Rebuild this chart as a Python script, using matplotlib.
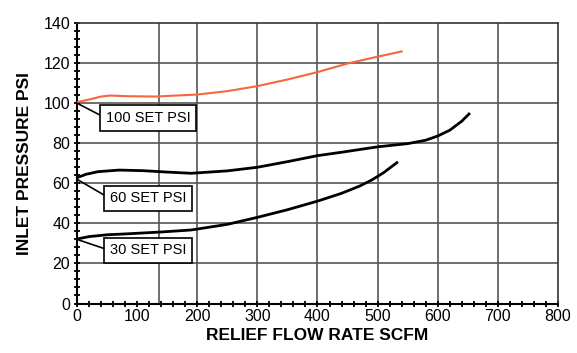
import numpy as np
import matplotlib.pyplot as plt

plt.rcParams['font.family'] = ['Liberation Sans', 'DejaVu Sans']

# curves (flow scfm, inlet psi)
x100 = [0, 20, 40, 55, 80, 130, 200, 250, 300, 350, 400, 450, 500, 540]
y100 = [100.5, 101.8, 103.3, 103.8, 103.5, 103.3, 104.3, 106.0, 108.5, 111.8, 115.5, 119.8, 123.2, 125.8]

x60 = [0, 15, 35, 70, 110, 150, 190, 250, 300, 350, 400, 440, 500, 550, 580, 600, 620, 640, 652]
y60 = [62.8, 64.5, 65.8, 66.6, 66.3, 65.6, 65.0, 66.2, 68.0, 70.8, 73.8, 75.5, 78.2, 79.8, 81.5, 83.6, 86.5, 91.0, 94.6]

x30 = [0, 20, 50, 85, 140, 190, 250, 300, 350, 400, 440, 470, 490, 510, 532]
y30 = [32.2, 33.4, 34.3, 34.8, 35.7, 36.7, 39.5, 43.0, 46.8, 51.1, 55.0, 58.6, 61.6, 65.3, 70.3]

labels = ['100 SET PSI', '60 SET PSI', '30 SET PSI']
label_start = [100, 62, 32]
label_pos = [92.6, 52.5, 26.5]

# vertical grid lines as drawn on the chart (first one is off the 100 mark)
grid_x = [137, 200, 300, 400, 500, 600, 700]
grid_y = [20, 40, 60, 80, 100, 120]

fig = plt.figure(figsize=(5.77, 3.53), dpi=100)
ax = fig.add_axes([0.1335, 0.1402, 0.8335, 0.7946])

for gx in grid_x:
    ax.axvline(gx, color='#555555', lw=1.2, zorder=1)
for gy in grid_y:
    ax.axhline(gy, color='#555555', lw=1.2, zorder=1)

ax.plot(x100, y100, color='#f4683c', lw=1.5, zorder=3)
ax.plot(x60, y60, color='black', lw=2, zorder=3)
ax.plot(x30, y30, color='black', lw=2, zorder=3)

for lab, s, p in zip(labels, label_start, label_pos):
    ax.annotate(lab, xy=(0, s), xytext=(118, p), ha='center', va='center',
                fontsize=10.5,
                bbox=dict(boxstyle='square,pad=0.38', fc='white', ec='black', lw=1.2),
                arrowprops=dict(arrowstyle='-', color='black', lw=1.2,
                                relpos=(0, 0.5), shrinkA=0, shrinkB=0),
                zorder=4)

ax.set_xlim(0, 800)
ax.set_ylim(0, 140)
ax.set_xticks(np.arange(0, 801, 100))
ax.set_xticks(np.arange(0, 801, 20), minor=True)
ax.set_yticks(np.arange(0, 141, 20))
ax.set_yticks(np.arange(0, 141, 4), minor=True)
ax.tick_params(which='both', direction='inout', length=4, width=1.3, labelsize=11.5)
ax.tick_params(axis='x', pad=2)
ax.tick_params(axis='y', pad=3)

for side in ['left', 'bottom']:
    ax.spines[side].set_linewidth(1.5)
for side in ['top', 'right']:
    ax.spines[side].set_linewidth(1.2)
    ax.spines[side].set_color('#333333')

ax.set_xlabel('RELIEF FLOW RATE SCFM', fontsize=12.5, fontweight='bold', labelpad=3)
ax.set_ylabel('INLET PRESSURE PSI', fontsize=12.5, fontweight='bold', labelpad=8)

fig.savefig('out.png', dpi=100)
